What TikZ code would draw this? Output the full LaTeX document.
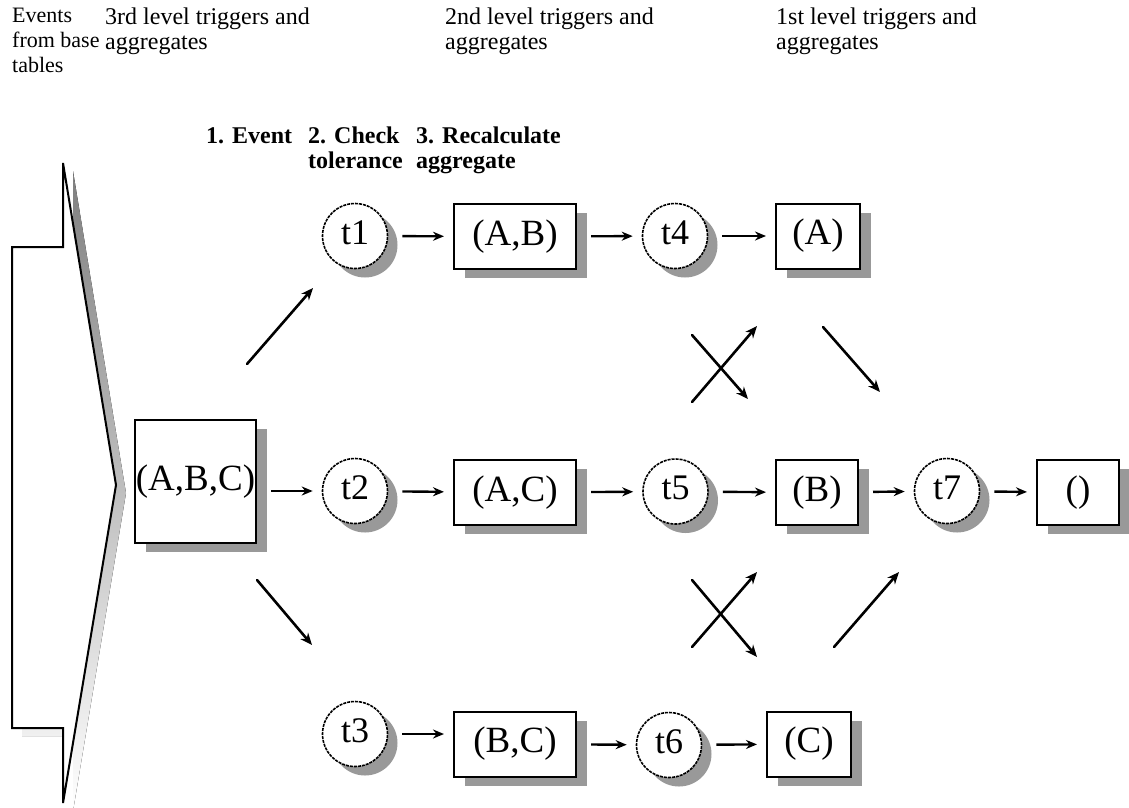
\documentclass[tikz,border=0pt]{standalone}
\usepackage{fontspec}
\setmainfont{Liberation Serif}
\usetikzlibrary{arrows.meta,shadows}

\definecolor{shade}{gray}{0.6}

\tikzset{
  trig/.style={circle, draw, fill=white, line width=1.6pt, dash pattern=on 3pt off 1pt,
    minimum size=65pt, inner sep=0pt, text depth=7pt, font=\fontsize{36}{36}\selectfont,
    drop shadow={shadow xshift=10pt, shadow yshift=-9pt, fill=shade, opacity=1}},
  aggr/.style={rectangle, draw, fill=white, line width=2pt, minimum height=65pt,
    inner sep=0pt, font=\fontsize{37}{37}\selectfont,
    drop shadow={shadow xshift=11pt, shadow yshift=-9pt, fill=shade, opacity=1}},
  flow/.style={line width=2.4pt, -{Stealth[length=11pt,width=9pt]},
    shorten <=14pt, shorten >=9pt},
  diag/.style={line width=2.6pt, line cap=round, -{Stealth[length=12pt,width=10pt]}},
  head/.style={anchor=north west, align=left, inner sep=0pt, font=\fontsize{24}{25}\selectfont},
  phase/.style={anchor=north west, align=left, inner sep=0pt, font=\bfseries\fontsize{24}{25}\selectfont},
}

\begin{document}
\begin{tikzpicture}[x=1pt, y=-1pt]
    \useasboundingbox (0,0) rectangle (1129,807);

    \fill[shade, shift={(10,8)}] (63,163) -- (63,247) -- (12,247) -- (12,728) -- (63,728)
        -- (63,803) -- (116,485) -- cycle;
    \draw[line width=2pt, fill=white] (63,163) -- (63,247) -- (12,247) -- (12,728)
        -- (63,728) -- (63,803) -- (116,485) -- cycle;

    \node[head, font=\fontsize{22}{25}\selectfont] (base) at (12,8) {Events\\from base\\tables};
    \node[head] (lvl3) at (105,8) {3rd level triggers and\\aggregates};
    \node[head] (lvl2) at (445,8) {2nd level triggers and\\aggregates};
    \node[head] (lvl1) at (776,8) {1st level triggers and\\aggregates};

    \node[phase] (ev) at (206,127) {1. Event};
    \node[phase] (chk) at (308,127) {2. Check\\tolerance};
    \node[phase] (rec) at (416,127) {3. Recalculate\\aggregate};

    \node[aggr, minimum width=121pt, minimum height=123pt] (ABC) at (195.5,481.5) {(A,B,C)};

    \node[trig] (t1) at (355,236) {t1};
    \node[aggr, minimum width=122pt] (AB) at (515,236.5) {(A,B)};
    \node[trig] (t4) at (675,236) {t4};
    \node[aggr, minimum width=84pt] (A) at (818,236) {(A)};

    \node[trig] (t2) at (355,491) {t2};
    \node[aggr, minimum width=122pt] (AC) at (515,492.5) {(A,C)};
    \node[trig] (t5) at (675.5,491.5) {t5};
    \node[aggr, minimum width=82pt] (B) at (817,492.5) {(B)};
    \node[trig] (t7) at (947,491) {t7};
    \node[aggr, minimum width=82pt] (E) at (1078,492.5) {()};

    \node[trig] (t3) at (355,734) {t3};
    \node[aggr, minimum width=122pt] (BC) at (515,744) {(B,C)};
    \node[trig] (t6) at (669,745) {t6};
    \node[aggr, minimum width=84pt] (C) at (809,744) {(C)};

    \draw[flow] (t1) -- (AB);
    \draw[flow] (AB) -- (t4);
    \draw[flow] (t4) -- (A);

    \draw[flow] (t2 -| ABC.east) -- (t2);
    \draw[flow] (t2) -- (AC);
    \draw[flow] (AC) -- (t5);
    \draw[flow] (t5) -- (B);
    \draw[flow] (B) -- (t7);
    \draw[flow] (t7) -- (E);

    \draw[flow] (t3) -- (t3 -| BC.west);
    \draw[flow] (BC) -- (t6);
    \draw[flow] (t6) -- (C);

    \coordinate (ABC-up) at (247,364);
    \coordinate (t1-in) at (313,288);
    \coordinate (ABC-dn) at (257,580);
    \coordinate (t3-in) at (312,645);
    \coordinate (t4-out) at (692,335);
    \coordinate (B-in1) at (748,399);
    \coordinate (t5-out1) at (692,402);
    \coordinate (A-in) at (757,326);
    \coordinate (A-out) at (823,327);
    \coordinate (t7-in1) at (880,392);
    \coordinate (t5-out2) at (692,580);
    \coordinate (C-in) at (757,657);
    \coordinate (t6-out) at (692,647);
    \coordinate (B-in2) at (757,572);
    \coordinate (C-out) at (834,647);
    \coordinate (t7-in2) at (899,572);

    \draw[diag] (ABC-up) -- (t1-in);
    \draw[diag] (ABC-dn) -- (t3-in);
    \draw[diag] (t4-out) -- (B-in1);
    \draw[diag] (t5-out1) -- (A-in);
    \draw[diag] (A-out) -- (t7-in1);
    \draw[diag] (t5-out2) -- (C-in);
    \draw[diag] (t6-out) -- (B-in2);
    \draw[diag] (C-out) -- (t7-in2);

\end{tikzpicture}
\end{document}
